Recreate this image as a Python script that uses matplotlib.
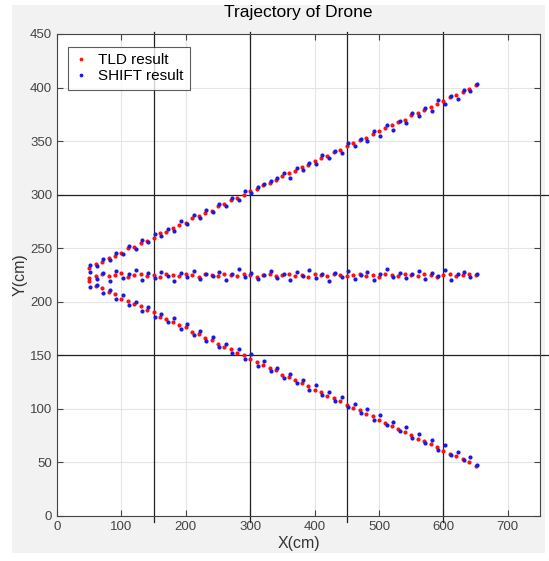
import matplotlib
matplotlib.use('Agg')
import matplotlib.pyplot as plt
from matplotlib.patches import Rectangle

plt.rcParams['font.family'] = ['Liberation Sans', 'DejaVu Sans']

# x positions of the samples (cm)
x_tld = [50, 60, 70, 80, 90, 100, 110, 120, 130, 140,
         150, 160, 170, 180, 190, 200, 210, 220, 230, 240,
         250, 260, 270, 280, 290, 300, 310, 320, 330, 340,
         350, 360, 370, 380, 390, 400, 410, 420, 430, 440,
         450, 460, 470, 480, 490, 500, 510, 520, 530, 540,
         550, 560, 570, 580, 590, 600, 610, 620, 630, 640, 650]
x_shift = [52, 62, 72, 82, 92, 102, 112, 122, 132, 142,
           152, 162, 172, 182, 192, 202, 212, 222, 232, 242,
           252, 262, 272, 282, 292, 302, 312, 322, 332, 342,
           352, 362, 372, 382, 392, 402, 412, 422, 432, 442,
           452, 462, 472, 482, 492, 502, 512, 522, 532, 542,
           552, 562, 572, 582, 592, 602, 612, 622, 632, 642, 652]

# upper trajectory
up_tld = [232, 235, 237, 241, 243, 246, 250, 251, 255, 257,
          260, 264, 265, 269, 272, 274, 278, 280, 283, 285,
          289, 291, 295, 297, 300, 303, 305, 309, 311, 314,
          317, 320, 322, 326, 328, 331, 334, 336, 340, 342,
          345, 348, 351, 353, 357, 359, 362, 365, 368, 370,
          374, 376, 379, 382, 385, 387, 391, 393, 396, 399, 402]
up_shift = [234, 233, 240, 239, 246, 245, 252, 249, 258, 256,
            263, 261, 268, 266, 275, 273, 281, 278, 286, 284,
            291, 289, 297, 295, 303, 302, 307, 310, 313, 316,
            320, 316, 325, 323, 330, 329, 337, 334, 341, 339,
            348, 345, 352, 350, 359, 355, 365, 360, 369, 367,
            376, 373, 381, 378, 388, 385, 392, 389, 398, 397, 403]

# middle trajectory
mid_tld = [222, 224, 226, 224, 225, 227, 223, 225, 226, 224,
           225, 223, 226, 225, 224, 226, 225, 223, 226, 225,
           224, 226, 225, 224, 226, 225, 223, 225, 226, 224,
           225, 226, 224, 225, 223, 226, 225, 224, 226, 225,
           224, 225, 226, 224, 225, 223, 226, 225, 224, 226,
           225, 224, 226, 225, 223, 225, 226, 224, 225, 226, 225]
mid_shift = [228, 221, 227, 219, 229, 222, 226, 230, 220, 227,
             222, 228, 224, 219, 227, 223, 229, 221, 226, 224,
             228, 220, 226, 231, 223, 227, 221, 225, 229, 222,
             226, 220, 228, 224, 230, 222, 226, 219, 227, 223,
             229, 221, 225, 228, 220, 226, 231, 223, 227, 222,
             226, 229, 221, 227, 224, 230, 220, 226, 228, 223, 226]

# lower trajectory
low_tld = [219, 215, 213, 209, 207, 203, 201, 198, 196, 192,
           190, 186, 184, 181, 178, 176, 172, 170, 166, 164,
           161, 158, 156, 152, 150, 147, 144, 141, 138, 136,
           132, 130, 127, 124, 121, 118, 116, 112, 110, 107,
           104, 101, 99, 95, 93, 90, 87, 84, 81, 78,
           76, 72, 70, 67, 64, 61, 58, 56, 53, 50, 47]
low_shift = [214, 216, 208, 211, 203, 206, 197, 200, 191, 195,
             186, 189, 181, 185, 175, 179, 169, 173, 163, 167,
             158, 161, 152, 156, 147, 151, 140, 145, 135, 138,
             129, 133, 124, 127, 118, 122, 113, 116, 107, 111,
             102, 105, 96, 100, 90, 94, 85, 88, 79, 83,
             73, 77, 68, 71, 62, 66, 57, 60, 52, 55, 48]

fig = plt.figure(figsize=(5.49, 5.61), dpi=100, facecolor='white')
fig.patches.append(Rectangle((12/549, 8/561), 533/549, 548/561,
                             transform=fig.transFigure, facecolor='#f2f2f2',
                             edgecolor='none', zorder=-10))
ax = fig.add_axes([57/549, 45/561, 483/549, 482/561])
ax.set_facecolor('white')

ms = 3.0
ax.plot(x_tld, up_tld, 'o', color='#ff1010', ms=ms, mew=0, label='TLD result', zorder=3)
ax.plot(x_shift, up_shift, 'o', color='#1a1ae0', ms=ms, mew=0, label='SHIFT result', zorder=3)
ax.plot(x_tld, mid_tld, 'o', color='#ff1010', ms=ms, mew=0, zorder=3)
ax.plot(x_shift, mid_shift, 'o', color='#1a1ae0', ms=ms, mew=0, zorder=3)
ax.plot(x_tld, low_tld, 'o', color='#ff1010', ms=ms, mew=0, zorder=3)
ax.plot(x_shift, low_shift, 'o', color='#1a1ae0', ms=ms, mew=0, zorder=3)

# black reference lines
for xv in [150, 300, 450, 600]:
    ax.plot([xv, xv], [-6, 452], color='#222222', lw=0.9, clip_on=False, zorder=2)
for yv in [150, 300]:
    ax.plot([0, 765], [yv, yv], color='#222222', lw=0.9, clip_on=False, zorder=2)

ax.set_xlim(0, 750)
ax.set_ylim(0, 450)
ax.set_xticks([0, 100, 200, 300, 400, 500, 600, 700])
ax.set_yticks([0, 50, 100, 150, 200, 250, 300, 350, 400, 450])
ax.grid(True, color='#e4e4e4', lw=0.8, zorder=0)
ax.set_axisbelow(True)
ax.tick_params(direction='in', top=True, right=True, length=4, width=0.8,
               colors='#444444', labelsize=9.5)
for s in ax.spines.values():
    s.set_color('#444444')
    s.set_linewidth(0.8)

ax.set_title('Trajectory of Drone', fontsize=12.5, pad=12)
ax.set_xlabel('X(cm)', fontsize=11.5, color='#333333', labelpad=2)
ax.set_ylabel('Y(cm)', fontsize=11.5, color='#333333', labelpad=2)

leg = ax.legend(loc='upper left', bbox_to_anchor=(0.022, 0.973), fontsize=11,
                frameon=True, fancybox=False, borderpad=0.4, handlelength=0.9,
                handletextpad=0.7, labelspacing=0.15, markerscale=0.9,
                borderaxespad=0)
leg.get_frame().set_edgecolor('#333333')
leg.get_frame().set_linewidth(0.8)

fig.savefig('out.png', dpi=100, facecolor=fig.get_facecolor())
